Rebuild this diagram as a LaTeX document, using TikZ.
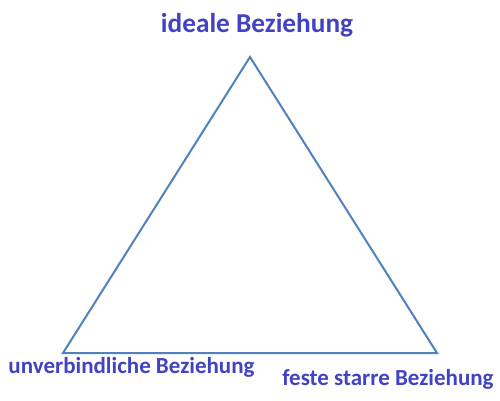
\documentclass[tikz,border=0pt]{standalone}
\usepackage{fontspec}
\setmainfont{Carlito}
\definecolor{lbl}{RGB}{66,66,196}
\definecolor{edge}{RGB}{79,129,189}
\tikzset{
  lab/.style={text=lbl, font=\bfseries\fontsize{23}{27}\selectfont, anchor=base, inner sep=0pt},
  biglab/.style={lab, font=\bfseries\fontsize{27.3}{32}\selectfont},
  side/.style={draw=edge, line width=2pt, line join=miter}
}
\begin{document}
\begin{tikzpicture}[x=1pt,y=1pt]
\useasboundingbox (0,0) rectangle (500,400);
\coordinate (T) at (250,343);
\coordinate (L) at (63,47);
\coordinate (R) at (437,47);
\draw[side] (T) -- (L) -- (R) -- cycle;
\node[biglab] (top) at (257,367) {ideale Beziehung};
\node[lab] (left) at (131.5,27) {unverbindliche Beziehung};
\node[lab] (right) at (388,15) {feste starre Beziehung};
\end{tikzpicture}
\end{document}
